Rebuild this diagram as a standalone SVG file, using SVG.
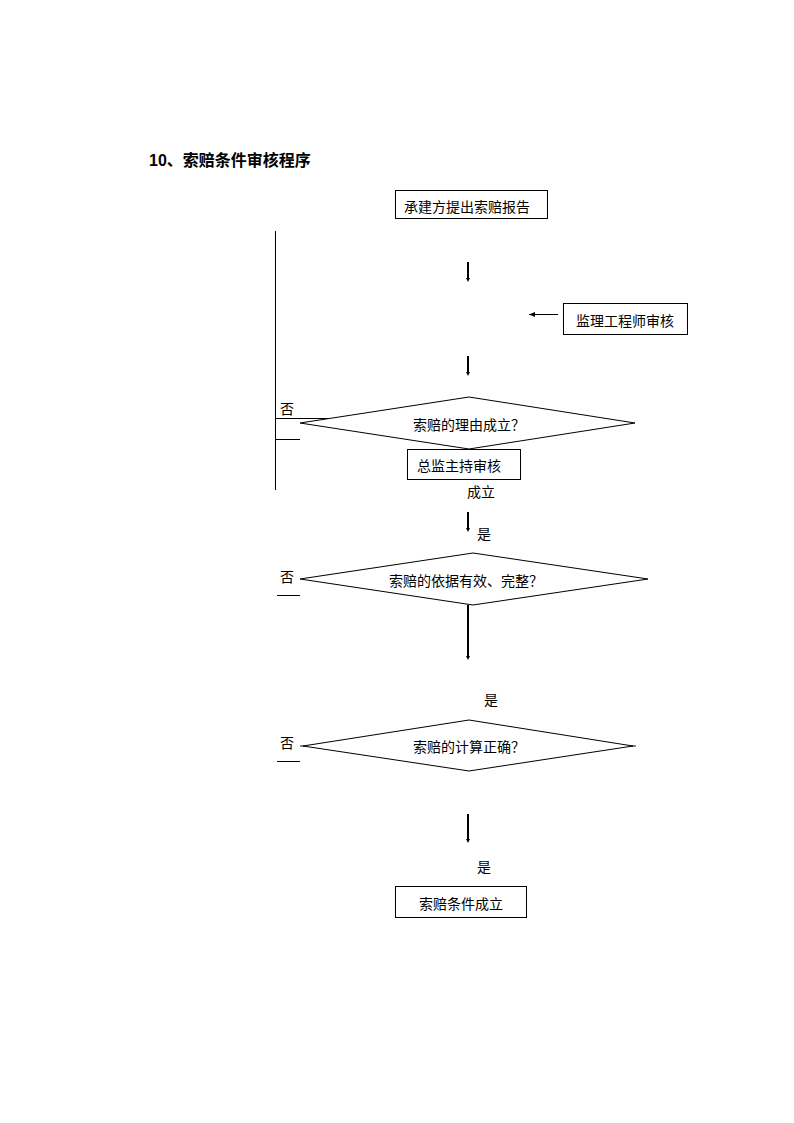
<svg xmlns="http://www.w3.org/2000/svg" width="794" height="1123" viewBox="0 0 794 1123">
<style>
text{font-family:"Liberation Sans","Noto Sans CJK SC",sans-serif;fill:#000;}
.t{font-size:14px;}
.c{text-anchor:middle;}
.box{fill:#fff;stroke:#000;stroke-width:1;}
.ln{stroke:#000;stroke-width:1;fill:none;}
.ar{stroke:#000;stroke-width:2;fill:none;marker-end:url(#ah);}
.ar1{stroke:#000;stroke-width:1;fill:none;marker-end:url(#ah2);}
</style>
<defs>
<marker id="ah" markerWidth="4" markerHeight="4" refX="2" refY="2" orient="auto" markerUnits="userSpaceOnUse"><path d="M0,0 L4,2 L0,4 z" fill="#000"/></marker>
<marker id="ah2" markerWidth="6" markerHeight="5" refX="6" refY="2.5" orient="auto" markerUnits="userSpaceOnUse"><path d="M0,0 L6,2.5 L0,5 z" fill="#000"/></marker>
</defs>
<text x="149" y="166" style="font-size:16px;font-weight:bold">10、索赔条件审核程序</text>
<g id="connectors">
<line class="ln" x1="275.5" y1="231" x2="275.5" y2="490"/>
<line class="ar" x1="468" y1="262" x2="468" y2="280"/>
<line class="ar1" x1="558" y1="314.5" x2="529" y2="314.5"/>
<line class="ar" x1="468" y1="356" x2="468" y2="374"/>
<line class="ln" x1="275" y1="418.5" x2="330" y2="418.5"/>
<line class="ln" x1="275" y1="439.5" x2="300" y2="439.5"/>
<line class="ar" x1="468" y1="512" x2="468" y2="530"/>
<line class="ln" x1="277" y1="595.5" x2="300" y2="595.5"/>
<line class="ar" x1="468" y1="605" x2="468" y2="658"/>
<line class="ln" x1="277" y1="761.5" x2="300" y2="761.5"/>
<line class="ln" x1="300" y1="746" x2="305" y2="746"/>
<line class="ln" x1="631" y1="746" x2="636" y2="746"/>
<line class="ar" x1="468" y1="814" x2="468" y2="841"/>
</g>
<g id="n1"><rect class="box" x="395.5" y="190.5" width="152" height="28"/><text class="t c" x="467" y="212">承建方提出索赔报告</text></g>
<g id="n2"><rect class="box" x="563.5" y="303.5" width="124" height="31"/><text class="t c" x="625" y="326">监理工程师审核</text></g>
<g id="d1"><polygon class="box" points="469,397 635,423 469,449 300,423"/><text class="t c" x="469" y="430">索赔的理由成立？</text></g>
<g id="n3"><rect class="box" x="407.5" y="449.5" width="113" height="30"/><text class="t c" x="459" y="471">总监主持审核</text></g>
<g id="d2"><polygon class="box" points="473,553 648,579 473,605 300,579"/><text class="t c" x="466" y="586">索赔的依据有效、完整？</text></g>
<g id="d3"><polygon class="box" points="469,720 633,746 469,771 303,746"/><text class="t c" x="469" y="752">索赔的计算正确？</text></g>
<g id="n4"><rect class="box" x="395.5" y="886.5" width="131" height="31"/><text class="t c" x="461" y="909">索赔条件成立</text></g>
<g id="labels">
<text class="t" x="280" y="414">否</text>
<text class="t" x="467" y="497">成立</text>
<text class="t" x="477" y="539">是</text>
<text class="t" x="280" y="582">否</text>
<text class="t" x="484" y="705">是</text>
<text class="t" x="280" y="748">否</text>
<text class="t" x="477" y="872">是</text>
</g>
</svg>
